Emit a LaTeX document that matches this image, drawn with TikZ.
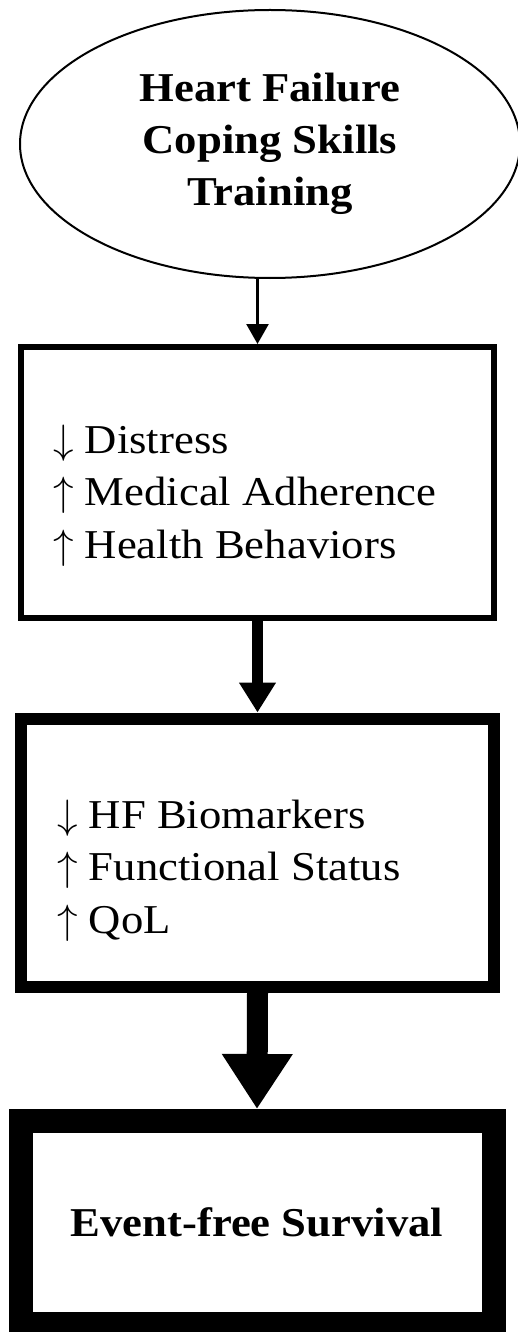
\RequirePackage{fix-cm}
\documentclass[tikz,border=0pt]{standalone}
\usepackage{fontspec}
\setmainfont{Liberation Serif}[FakeStretch=1.09]
\usetikzlibrary{shapes.geometric,arrows.meta}
\tikzset{
  stage/.style={draw, rectangle, minimum width=473pt, inner sep=0pt},
  itemlist/.style={align=left, font=\fontsize{41}{52.5}\selectfont, inner sep=0pt},
  headtext/.style={font=\fontsize{41}{52}\selectfont\bfseries, align=center},
}
\newcommand{\dn}{$\downarrow$}
\newcommand{\up}{$\uparrow$}

\begin{document}
\begin{tikzpicture}[x=1pt, y=-1pt]
  \useasboundingbox (0,0) rectangle (518,1332);
  \node[draw, ellipse, line width=2pt, minimum width=500pt, minimum height=268pt, inner sep=0pt, headtext] (hfcst) at (270,144) {Heart Failure\\Coping Skills\\Training};
  \node[stage, line width=6pt, minimum height=271pt] (mid) at (257.5,482.5) {};
  \node[stage, line width=12pt, minimum height=268.5pt] (outcomes) at (257.5,852.75) {};
  \node[stage, line width=24pt, minimum height=203pt, headtext] (survival) at (257,1222.5) {Event-free Survival};
  \node[itemlist, anchor=base west] (midlist) at (53,558) {\dn{} Distress\\\up{} Medical Adherence\\\up{} Health Behaviors};
  \node[itemlist, anchor=base west] (outlist) at (57,933) {\dn{} HF Biomarkers\\\up{} Functional Status\\\up{} QoL};
  \draw[line width=2.5pt, -{Triangle[width=22pt,length=20pt]}] (mid.north |- hfcst.south) -- (mid.north);
  \draw[line width=11pt, -{Triangle[width=35pt,length=30pt]}] (mid.south) -- (outcomes.north);
  \draw[line width=21pt, -{Triangle[width=67pt,length=55pt]}] (outcomes.south) -- (survival.north);
\end{tikzpicture}
\end{document}
